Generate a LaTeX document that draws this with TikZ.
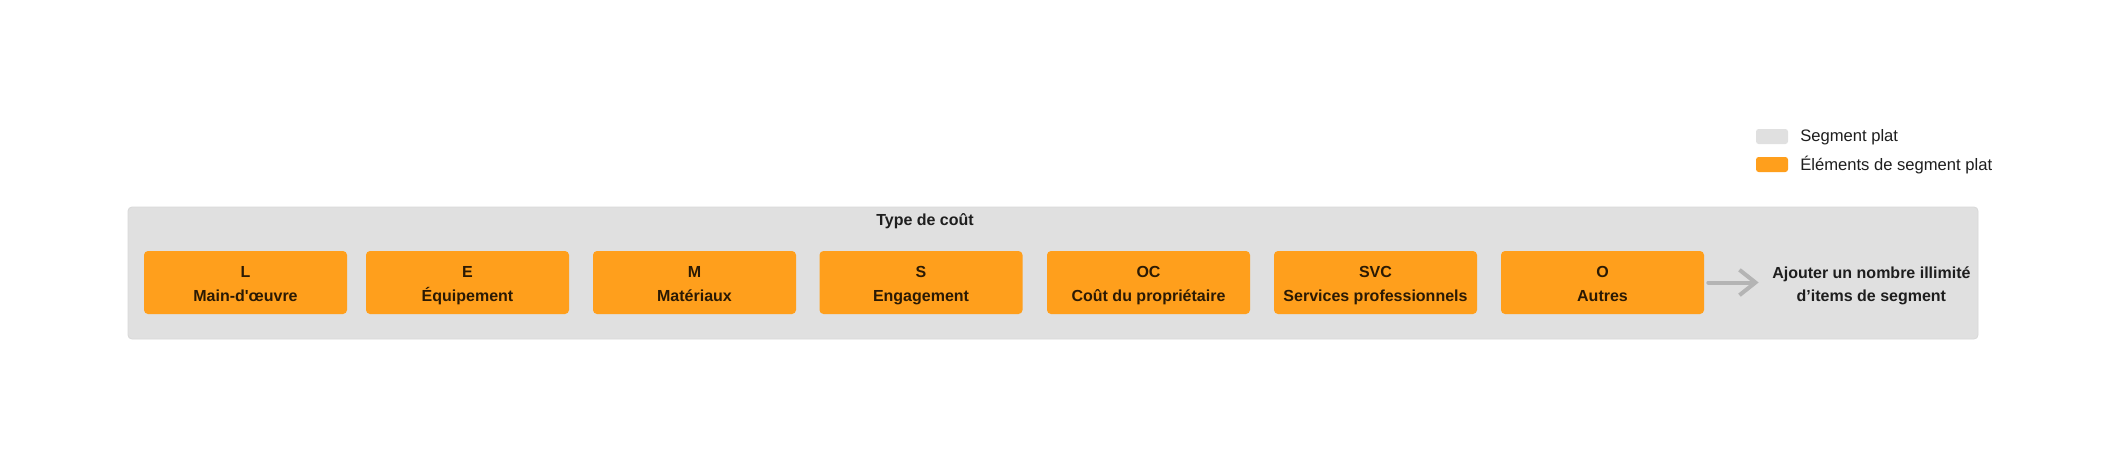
\documentclass[tikz,border=0pt]{standalone}
\usepackage{fontspec}
\setmainfont{Liberation Sans}[Ligatures=TeXOff]
\usetikzlibrary{arrows.meta}
\definecolor{segbg}{HTML}{E0E0E0}
\definecolor{segline}{HTML}{D8D8D8}
\definecolor{segorange}{HTML}{FF9F1C}
\definecolor{itemtext}{HTML}{2B1A04}
\definecolor{darktext}{HTML}{1E1E1E}
\definecolor{arrowgray}{HTML}{B4B4B4}
\tikzset{>={Straight Barb[length=12pt,width=19pt]}}
\tikzset{
  segbox/.style={fill=segbg, draw=segline, line width=0.6pt, rounded corners=3pt,
    minimum width=1387.5pt, minimum height=99pt, inner sep=0pt},
  segitem/.style={fill=segorange, rounded corners=3pt, minimum width=152.25pt,
    minimum height=47.25pt, inner sep=0pt, align=center, text=itemtext,
    text height=28.2pt, text depth=0pt,
    font=\bfseries\fontsize{12}{18}\selectfont},
  boldtext/.style={text=darktext, inner sep=0pt, align=center,
    font=\bfseries\fontsize{12}{17.5}\selectfont},
  swatch/.style={rounded corners=2pt, minimum width=24pt, minimum height=11.25pt, inner sep=0pt},
  legendtext/.style={anchor=west, text=darktext, inner sep=0pt,
    font=\fontsize{12.45}{15}\selectfont},
  addarrow/.style={->, arrowgray, line width=3pt, line cap=round}
}

\begin{document}
\begin{tikzpicture}[x=0.75pt,y=-0.75pt]
  \useasboundingbox[fill=white] (0,0) rectangle (2121,468);

  \node[swatch, fill=segbg] (kplat) at (1772,136.5) {};
  \node[swatch, fill=segorange] (kitem) at (1772,164.5) {};
  \node[legendtext] (tplat) at (1800,137) {Segment plat};
  \node[legendtext] (titem) at (1800,165) {Éléments de segment plat};

  \node[segbox] (plat) at (1053,273) {};
  \node[boldtext] (type) at (925,221.5) {Type de coût};

  \node[segitem] (l) at (245.5,282.5) {L\\Main-d'œuvre};
  \node[segitem] (e) at (467.5,282.5) {E\\Équipement};
  \node[segitem] (m) at (694.5,282.5) {M\\Matériaux};
  \node[segitem] (s) at (921,282.5) {S\\Engagement};
  \node[segitem] (oc) at (1148.5,282.5) {OC\\Coût du propriétaire};
  \node[segitem] (svc) at (1375.5,282.5) {SVC\\Services professionnels};
  \node[segitem] (o) at (1602.5,282.5) {O\\Autres};

  \node[boldtext, anchor=west] (more) at (1772,286) {Ajouter un nombre illimité\\d’items de segment};

  \draw[addarrow, shorten <=3pt, shorten >=10pt] (o.east) -- (o.east -| more.west);
\end{tikzpicture}
\end{document}
